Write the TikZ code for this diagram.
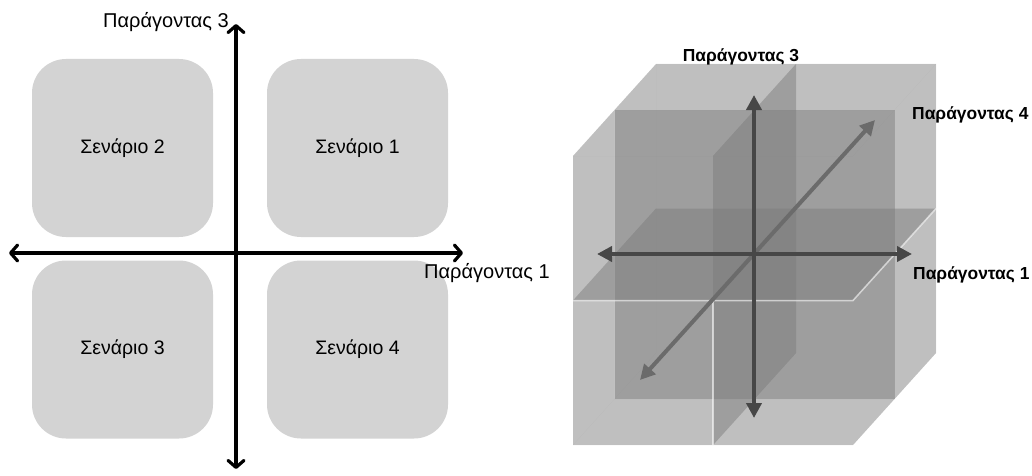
\documentclass[tikz,border=0pt]{standalone}
\usepackage{fontspec}
\setmainfont{Liberation Sans}
\usetikzlibrary{positioning, arrows.meta}

\definecolor{boxgray}{RGB}{211,211,211}

\begin{document}
\begin{tikzpicture}[x=1pt, y=1pt,
    scenario/.style={fill=boxgray, rounded corners=34pt, minimum width=181pt, minimum height=178pt, inner sep=0pt, font=\fontsize{19.5}{22}\selectfont},
    axisline/.style={line width=3.2pt, {Straight Barb[length=7pt,width=16pt,round]}-{Straight Barb[length=7pt,width=16pt,round]}},
    axislabel/.style={font=\fontsize{20}{22}\selectfont, inner sep=0pt},
    cubeface/.style={fill=black!52, fill opacity=0.28},
    seam/.style={draw=white, line width=1.5pt, opacity=0.6},
    cubeaxis/.style={line width=4pt, draw=black!72, {Triangle[length=15pt,width=15pt]}-{Triangle[length=15pt,width=15pt]}},
    cubelabel/.style={font=\bfseries\fontsize{17.4}{19}\selectfont, inner sep=0pt}
]
\useasboundingbox (0,0) rectangle (1032,475);

%=== LEFT: four scenarios on two axes ===
\begin{scope}
    \node[scenario] (s2) at (122.5,327)   {Σενάριο 2\hspace{16pt}};
    \node[scenario] (s1) at (357.5,327)   {Σενάριο 1};
    \node[scenario] (s3) at (122.5,125.5) {Σενάριο 3\hspace{16pt}};
    \node[scenario] (s4) at (357.5,125.5) {Σενάριο 4};

    \coordinate (axN) at (236,451);
    \coordinate (axS) at (236,6);
    \coordinate (axW) at (9,222);
    \coordinate (axE) at (463,222);

    \draw[axisline] (axS) -- (axN);
    \draw[axisline] (axW) -- (axE);

    \node[axislabel, anchor=east] (f3) at (229,453) {Παράγοντας 3};
    \node[axislabel, anchor=west] (f1) at (424,202) {Παράγοντας 1};
\end{scope}

%=== RIGHT: cube split into eight parts ===
\begin{scope}[shift={(573,30)}, x={(140pt,0pt)}, y={(0pt,144.5pt)}, z={(41.5pt,46pt)}]
    \foreach \i in {0,1} {
      \foreach \j in {0,1} {
        \foreach \k in {0,1} {
          % front / back
          \fill[cubeface] (\i,\j,\k) -- ++(1,0,0) -- ++(0,1,0) -- ++(-1,0,0) -- cycle;
          \fill[cubeface] (\i,\j,\k) ++(0,0,1) -- ++(1,0,0) -- ++(0,1,0) -- ++(-1,0,0) -- cycle;
          % left / right
          \fill[cubeface] (\i,\j,\k) -- ++(0,0,1) -- ++(0,1,0) -- ++(0,0,-1) -- cycle;
          \fill[cubeface] (\i,\j,\k) ++(1,0,0) -- ++(0,0,1) -- ++(0,1,0) -- ++(0,0,-1) -- cycle;
          % bottom / top
          \fill[cubeface] (\i,\j,\k) -- ++(1,0,0) -- ++(0,0,1) -- ++(-1,0,0) -- cycle;
          \fill[cubeface] (\i,\j,\k) ++(0,1,0) -- ++(1,0,0) -- ++(0,0,1) -- ++(-1,0,0) -- cycle;
        }
      }
    }
    % light seams between the parts
    \draw[seam] (0,1,0) -- (2,1,0) -- (2,1,2);
    \draw[seam] (1,0,0) -- (1,1,0);
\end{scope}

\coordinate (c3top)   at (754,380);
\coordinate (c3bot)   at (754,57);
\coordinate (c1left)  at (597,221);
\coordinate (c1right) at (912,221);
\coordinate (c4back)  at (875,355);
\coordinate (c4front) at (640,95);

\draw[cubeaxis, draw=black!58] (c4front) -- (c4back);
\draw[cubeaxis] (c3bot) -- (c3top);
\draw[cubeaxis] (c1left) -- (c1right);

\node[cubelabel] (lab3) at (741,418) {Παράγοντας 3};
\node[cubelabel, anchor=west] (lab4) at (912,360) {Παράγοντας 4};
\node[cubelabel, anchor=west] (lab1) at (913,200) {Παράγοντας 1};

\end{tikzpicture}
\end{document}
